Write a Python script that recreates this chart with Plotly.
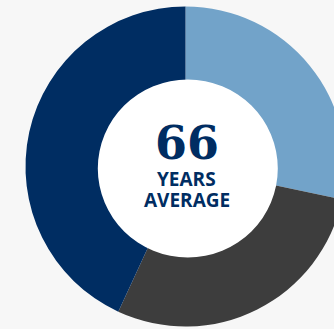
import plotly.graph_objects as go

# Share of each group (percent), drawn clockwise from 12 o'clock
labels = ["Group 1", "Group 2", "Group 3"]
values = [28.3, 28.6, 43.1]
colors = ["#72a3c9", "#3d3d3d", "#002d62"]

center_value = "66"
center_lines = ["YEARS", "AVERAGE"]

W, H = 346, 329
BG = "#f7f7f7"
NAVY = "#002d62"

fig = go.Figure(
    go.Pie(
        labels=labels,
        values=values,
        marker=dict(colors=colors, line=dict(width=0)),
        sort=False,
        direction="clockwise",
        rotation=0,
        hole=0.45,
        textinfo="none",
        hoverinfo="label+percent",
        showlegend=False,
        domain=dict(x=[25.5 / W, 345.5 / W], y=[2.5 / H, 322.5 / H]),
    )
)

# white centre disc
cx, cy, rx, ry = 187.8, H - 168.5, 90, 89
fig.add_shape(
    type="circle", xref="paper", yref="paper",
    x0=(cx - rx) / W, x1=(cx + rx) / W, y0=(cy - ry) / H, y1=(cy + ry) / H,
    fillcolor="white", line=dict(width=0), layer="above",
)

fig.add_annotation(
    x=186.5 / W, y=(H - 143) / H, xref="paper", yref="paper",
    text=f"<b>{center_value}</b>", showarrow=False,
    font=dict(family="DejaVu Serif", size=46, color=NAVY),
    xanchor="center", yanchor="middle",
)
for i, line in enumerate(center_lines):
    fig.add_annotation(
        x=186.5 / W, y=(H - (178.5 + 21 * i)) / H, xref="paper", yref="paper",
        text=f"<b>{line}</b>", showarrow=False,
        font=dict(family="Open Sans", size=19, color=NAVY),
        xanchor="center", yanchor="middle",
    )

fig.update_layout(
    width=W, height=H, autosize=False,
    margin=dict(l=0, r=0, t=0, b=0),
    paper_bgcolor=BG, plot_bgcolor=BG,
)

fig.write_html(
    "out.html",
    post_script="document.body.style.margin='0';document.body.style.overflow='hidden';",
)
